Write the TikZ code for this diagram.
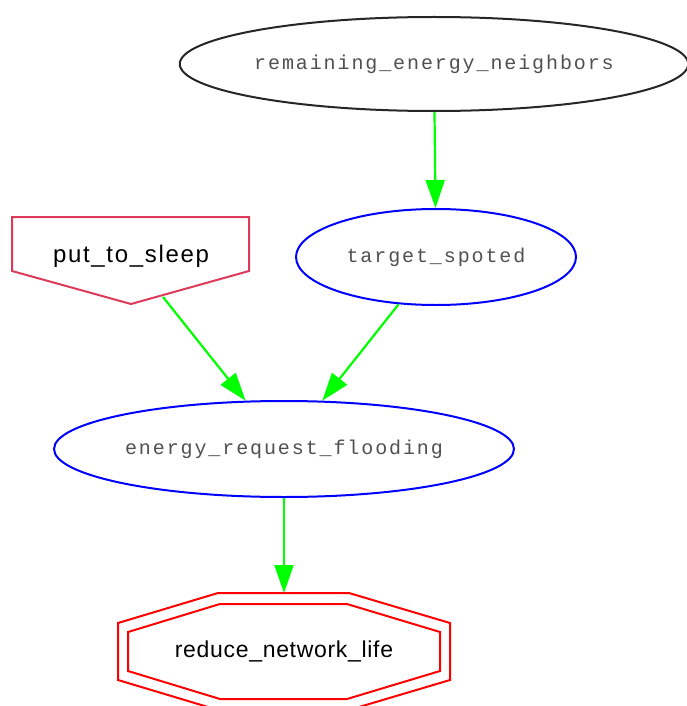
\documentclass[tikz,border=0pt]{standalone}
\usepackage{fontspec}
\setmainfont{Liberation Sans}
\newfontfamily\monof[LetterSpace=9.5]{Liberation Mono}
\newfontfamily\sansf[LetterSpace=3]{Liberation Sans}
\newfontfamily\sansw[LetterSpace=7]{Liberation Sans}
\usetikzlibrary{shapes.geometric,arrows.meta}
\definecolor{edgegreen}{RGB}{0,255,0}
\definecolor{sleepred}{RGB}{220,60,90}
\definecolor{monotext}{RGB}{80,80,80}
\tikzset{
  ell/.style={ellipse, draw, line width=2pt, inner sep=0pt, font=\monof\fontsize{20}{20}\selectfont, text=monotext},
  lbl/.style={inner sep=0pt, font=\sansf\fontsize{23}{23}\selectfont},
  conn/.style={draw=edgegreen, line width=2.2pt, -{Triangle[length=28pt,width=19pt]}},
}
\begin{document}
\begin{tikzpicture}[x=1pt,y=-1pt]
\useasboundingbox (0,0) rectangle (687,706);
\node[ell, draw=black!85, minimum width=508pt, minimum height=94pt] (rem) at (434,64) {remaining\_energy\_neighbors};
\node[ell, draw=blue, minimum width=280pt, minimum height=96pt] (tgt) at (436,257) {target\_spoted};
\node[ell, draw=blue, minimum width=460pt, minimum height=96pt] (erf) at (284,449) {energy\_request\_flooding};
% put_to_sleep (inverted house)
\draw[sleepred, line width=2pt] (12,217) -- (249,217) -- (249,271) -- (131,304) -- (12,271) -- cycle;
\node[lbl, font=\sansw\fontsize{24}{24}\selectfont] (sleep) at (131,256) {put\_to\_sleep};
\coordinate (sleepout) at (163,297);
% reduce_network_life (double octagon)
\draw[red, line width=2pt] (218,593) -- (349,593) -- (450,623) -- (450,680) -- (349,710) -- (218,710) -- (118,680) -- (118,623) -- cycle;
\draw[red, line width=2pt] (220,604) -- (347,604) -- (440,632) -- (440,671) -- (347,699) -- (220,699) -- (128,671) -- (128,632) -- cycle;
\node[lbl] (red) at (284,651) {reduce\_network\_life};
\coordinate (redin) at (284,593);
% connectors
\draw[conn] (rem) -- (tgt);
\draw[conn] (sleepout) -- (erf);
\draw[conn] (tgt) -- (erf);
\draw[conn] (erf) -- (redin);
\end{tikzpicture}
\end{document}
